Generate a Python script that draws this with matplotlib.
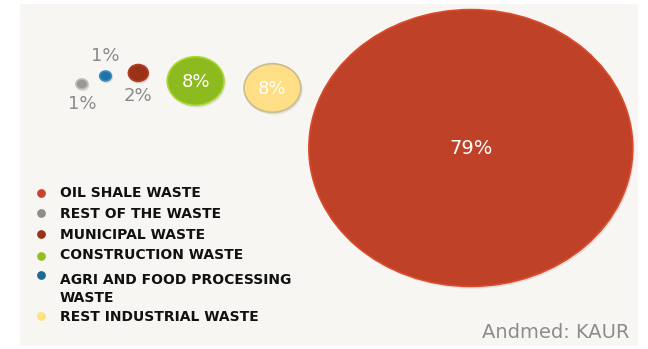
#!/usr/bin/env python3
"""Bubble chart of waste generation by type -> out.png."""
import matplotlib
matplotlib.use("Agg")
import matplotlib.pyplot as plt
from matplotlib.patches import Ellipse, Rectangle

# waste categories in legend order, with their share of all waste (%)
WASTE_TYPES = ["OIL SHALE WASTE", "REST OF THE WASTE", "MUNICIPAL WASTE",
               "CONSTRUCTION WASTE", "AGRI AND FOOD PROCESSING\nWASTE",
               "REST INDUSTRIAL WASTE"]
SHARES = [79, 1, 2, 8, 1, 8]
SOURCE = "Andmed: KAUR"

FILL = ["#bf4128", "#9c9895", "#9a3218", "#8dba1e", "#1d73a6", "#fedf85"]
EDGE = ["#dc4a2c", "#bdb9b5", "#b04026", "#a9d933", "#3a8cbd", "#c9bd8c"]
DOT = ["#c8432b", "#8f8c89", "#98321a", "#93c01f", "#1a6b94", "#fde27e"]

# bubbles are laid out left to right in this order (indices into WASTE_TYPES)
BUBBLE_ORDER = [1, 4, 2, 3, 5, 0]
GAPS = [12, 17, 19, 20, 8]          # px between neighbouring bubbles
CENTER_Y = [84, 76, 73, 81, 88, 148]
OUTSIDE = {1: 1, 4: -1, 2: 1}       # small bubbles get a label below (+1) / above (-1)
STRETCH = 1.17                      # horizontal stretch of the whole graphic
LEGEND_Y = [193, 214, 235, 255, 289, 317]
LEGEND_DOT_Y = [193, 213, 234, 256, 275, 316]

BG, PANEL, LABEL = "#ffffff", "#f7f6f3", "#8a8a8a"
W, H = 648, 349


def radius(v):
    # vertical radius in px, scaled so that small shares stay visible
    return 5.0 * v ** 0.76


fig = plt.figure(figsize=(W / 100, H / 100), dpi=100, facecolor=BG)
ax = fig.add_axes([0, 0, 1, 1])
ax.set_xlim(0, W); ax.set_ylim(H, 0); ax.axis("off")
ax.add_patch(Rectangle((20, 4), 618, 342, facecolor=PANEL, edgecolor="none", zorder=0))

x_left = 76
for k, i in enumerate(BUBBLE_ORDER):
    v = SHARES[i]; r = radius(v); rx = r * STRETCH
    cx = x_left + rx; cy = CENTER_Y[k]
    x_left = cx + rx + (GAPS[k] if k < len(GAPS) else 0)
    # soft drop shadow, then the bubble itself
    ax.add_patch(Ellipse((cx + 1.2, cy + 1.8), 2 * rx + 1, 2 * r + 1,
                         facecolor="#dcdad6", edgecolor="none", alpha=0.8, zorder=1))
    ax.add_patch(Ellipse((cx, cy), 2 * rx, 2 * r, facecolor=FILL[i],
                         edgecolor=EDGE[i], linewidth=1.2, zorder=2))
    if i in OUTSIDE:
        ax.text(cx, cy + OUTSIDE[i] * (r + 15), f"{v}%", ha="center", va="center",
                fontsize=13, color=LABEL, zorder=3)
    else:
        ax.text(cx, cy + 1, f"{v}%", ha="center", va="center",
                fontsize=14 if v > 50 else 13, color="white", zorder=3)

for i, name in enumerate(WASTE_TYPES):
    ax.plot(41, LEGEND_DOT_Y[i], "o", markersize=6.3, color=DOT[i],
            markeredgewidth=0, zorder=3)
    ax.text(60, LEGEND_Y[i], name, ha="left", va="center", fontsize=10,
            fontweight="bold", color="#111111", linespacing=1.45, zorder=3)

ax.text(630, 333, SOURCE, ha="right", va="center", fontsize=14, color="#8c8c8c", zorder=3)

fig.savefig("out.png", dpi=100, facecolor=BG)
